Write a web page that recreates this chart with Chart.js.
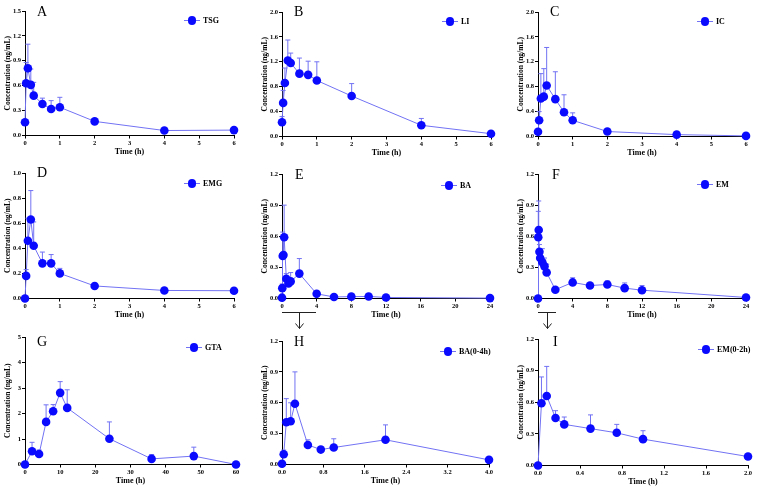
<!DOCTYPE html>
<html>
<head>
<meta charset="utf-8">
<script src="https://cdn.jsdelivr.net/npm/chart.js@4.4.0/dist/chart.umd.min.js"></script>
<style>
    html, body { margin: 0; padding: 0; background: #fff; }
    #page { position: relative; width: 762px; height: 487px; overflow: hidden; }
    .panel { position: absolute; }
    .letter { position: absolute; font-family: "Liberation Serif", "Times New Roman", serif; font-size: 14px; line-height: 14px; color: #000; }
    .legend { position: absolute; height: 9px; font-family: "Liberation Serif", "Times New Roman", serif; font-weight: bold; font-size: 8px; line-height: 9px; color: #000; white-space: nowrap; }
    .legend .ln { position: absolute; left: 0; top: 4px; width: 16px; height: 1px; }
    .legend .dot { position: absolute; left: 3.7px; top: 0.2px; width: 8.6px; height: 8.6px; border-radius: 50%; }
    .legend .tx { position: absolute; left: 19px; top: 0; }
    #arrows { position: absolute; left: 0; top: 0; }
</style>
</head>
<body>
<div id="page">
    <svg id="arrows" width="762" height="487"></svg>
</div>
<script>
// sampling times (h)
const time6h = [0, 0.033, 0.083, 0.167, 0.25, 0.5, 0.75, 1, 2, 4, 6];
const time24h = [0, 0.033, 0.083, 0.167, 0.25, 0.5, 0.75, 1, 2, 4, 6, 8, 10, 12, 24];
const time4h = [0, 0.033, 0.083, 0.167, 0.25, 0.5, 0.75, 1, 2, 4];
const time2h = [0, 0.033, 0.083, 0.167, 0.25, 0.5, 0.75, 1, 2];
const time60h = [0, 2, 4, 6, 8, 10, 12, 24, 36, 48, 60];

// mean concentrations (ng/mL) and SD (upper error bar)
const tsgMean = [0.16, 0.63, 0.81, 0.61, 0.48, 0.38, 0.32, 0.34, 0.17, 0.06, 0.065];
const tsgSd   = [0, 0.25, 0.29, 0.19, 0.16, 0.07, 0.10, 0.12, 0, 0, 0];

const liMean = [0.23, 0.54, 0.86, 1.22, 1.18, 1.01, 0.99, 0.90, 0.65, 0.18, 0.045];
const liSd   = [0.09, 0.20, 0.24, 0.33, 0.16, 0.25, 0.22, 0.30, 0.20, 0.11, 0];

const icMean = [0.075, 0.26, 0.61, 0.64, 0.82, 0.60, 0.39, 0.26, 0.08, 0.03, 0.01];
const icSd   = [0, 0.14, 0.40, 0.45, 0.61, 0.44, 0.28, 0.12, 0, 0, 0];

const emgMean = [0, 0.18, 0.46, 0.63, 0.42, 0.28, 0.28, 0.20, 0.10, 0.064, 0.062];
const emgSd   = [0, 0.05, 0.18, 0.23, 0.19, 0.09, 0.07, 0.04, 0, 0, 0];

const baMean = [0.008, 0.10, 0.41, 0.42, 0.59, 0.19, 0.145, 0.165, 0.24, 0.045, 0.015, 0.018, 0.02, 0.01, 0.004];
const baSd   = [0, 0.04, 0.23, 0.18, 0.31, 0.05, 0.03, 0.085, 0.145, 0, 0, 0, 0, 0, 0];

const emMean = [0, 0.59, 0.66, 0.45, 0.39, 0.35, 0.31, 0.25, 0.085, 0.155, 0.125, 0.135, 0.10, 0.08, 0.01];
const emSd   = [0, 0.25, 0.28, 0.07, 0.07, 0.13, 0.08, 0.08, 0, 0.045, 0.015, 0.035, 0.05, 0.045, 0];

const gtaMean = [0, 0.52, 0.41, 1.67, 2.09, 2.81, 2.22, 1.01, 0.22, 0.33, 0];
const gtaSd   = [0, 0.35, 0.16, 0.67, 0.26, 0.44, 0.71, 0.66, 0.17, 0.35, 0];

const DOT = '#0a0aff';
const LINE = '#7272f4';
const SERIF = '"Liberation Serif", "Times New Roman", serif';

// panel list: data + axis ranges, then layout (chart area box, legend, letter)
const panels = [
    { letter: 'A', name: 'TSG', t: time6h, mean: tsgMean, sd: tsgSd, xMax: 6, xStep: 1, xDec: 0, yMax: 1.5, yStep: 0.3, yDec: 1,
      area: [25, 11, 234, 135], legend: [184, 16], pos: [37, 4.5] },
    { letter: 'B', name: 'LI', t: time6h, mean: liMean, sd: liSd, xMax: 6, xStep: 1, xDec: 0, yMax: 2.0, yStep: 0.4, yDec: 1,
      area: [282, 12, 491, 136], legend: [442, 17], pos: [294, 4.5] },
    { letter: 'C', name: 'IC', t: time6h, mean: icMean, sd: icSd, xMax: 6, xStep: 1, xDec: 0, yMax: 2.0, yStep: 0.4, yDec: 1,
      area: [538, 12, 746, 136], legend: [697, 17], pos: [550, 4.5] },
    { letter: 'D', name: 'EMG', t: time6h, mean: emgMean, sd: emgSd, xMax: 6, xStep: 1, xDec: 0, yMax: 1.0, yStep: 0.2, yDec: 1,
      area: [25, 173, 234, 298], legend: [184, 179], pos: [37, 165.5] },
    { letter: 'E', name: 'BA', t: time24h, mean: baMean, sd: baSd, xMax: 24, xStep: 4, xDec: 0, yMax: 1.2, yStep: 0.3, yDec: 1,
      area: [282, 174, 490, 298], legend: [441, 181], pos: [295, 167.5] },
    { letter: 'F', name: 'EM', t: time24h, mean: emMean, sd: emSd, xMax: 24, xStep: 4, xDec: 0, yMax: 1.2, yStep: 0.3, yDec: 1,
      area: [538, 174, 746, 298], legend: [697, 180], pos: [552, 167.5] },
    { letter: 'G', name: 'GTA', t: time60h, mean: gtaMean, sd: gtaSd, xMax: 60, xStep: 10, xDec: 0, yMax: 5, yStep: 1, yDec: 0,
      area: [25, 337, 236, 464], legend: [186, 343], pos: [37, 334.5] },
    { letter: 'H', name: 'BA(0-4h)', t: time4h, mean: baMean.slice(0, 10), sd: baSd.slice(0, 10), xMax: 4.0, xStep: 0.8, xDec: 1, yMax: 1.2, yStep: 0.3, yDec: 1,
      area: [282, 341, 489, 464], legend: [440, 347], pos: [294, 334.5] },
    { letter: 'I', name: 'EM(0-2h)', t: time2h, mean: emMean.slice(0, 9), sd: emSd.slice(0, 9), xMax: 2.0, xStep: 0.4, xDec: 1, yMax: 1.2, yStep: 0.3, yDec: 1,
      area: [538, 339, 748, 465], legend: [698, 345], pos: [553, 334.5] }
];

// upward error bars, drawn under the markers
const errorBars = {
    id: 'errorBars',
    beforeDatasetsDraw(chart) {
        const ctx = chart.ctx;
        const xs = chart.scales.x, ys = chart.scales.y;
        chart.data.datasets.forEach(ds => {
            ctx.save();
            ctx.strokeStyle = LINE;
            ctx.lineWidth = 1;
            ds.data.forEach((pt, i) => {
                const e = ds.sd[i];
                if (!e) return;
                const x = xs.getPixelForValue(pt.x);
                const y0 = ys.getPixelForValue(pt.y);
                const y1 = ys.getPixelForValue(pt.y + e);
                ctx.beginPath();
                ctx.moveTo(x, y0);
                ctx.lineTo(x, y1);
                ctx.moveTo(x - 2.5, y1);
                ctx.lineTo(x + 2.5, y1);
                ctx.stroke();
            });
            ctx.restore();
        });
    }
};

const page = document.getElementById('page');

function makePanel(p) {
    const [L, T, R, B] = p.area;
    const wrap = document.createElement('div');
    wrap.className = 'panel';
    wrap.style.left = (L - 25) + 'px';
    wrap.style.top = (T - 8) + 'px';
    wrap.style.width = (R - L + 35) + 'px';
    wrap.style.height = (B - T + 29) + 'px';
    const cv = document.createElement('canvas');
    wrap.appendChild(cv);
    page.appendChild(wrap);

    const tickFont = { family: SERIF, size: 6.5, weight: 'bold' };

    new Chart(cv, {
        type: 'line',
        data: {
            datasets: [{
                label: p.name,
                data: p.t.map((x, i) => ({ x: x, y: p.mean[i] })),
                sd: p.sd,
                borderColor: LINE,
                borderWidth: 1,
                pointRadius: 4.3,
                pointBackgroundColor: DOT,
                pointBorderColor: DOT,
                pointBorderWidth: 0,
                tension: 0,
                clip: false
            }]
        },
        options: {
            responsive: true,
            maintainAspectRatio: false,
            animation: false,
            events: [],
            layout: { padding: { left: 0, top: 8, right: 10, bottom: 0 } },
            plugins: { legend: { display: false }, tooltip: { enabled: false } },
            scales: {
                x: {
                    type: 'linear', min: 0, max: p.xMax,
                    ticks: { stepSize: p.xStep, autoSkip: false, maxRotation: 0, padding: 1, color: '#000', font: tickFont,
                             callback: v => v.toFixed(p.xDec) },
                    grid: { drawOnChartArea: false, tickLength: 3, color: '#000' },
                    border: { color: '#000', width: 1 },
                    title: { display: true, text: 'Time (h)', color: '#000', padding: 0,
                             font: { family: SERIF, size: 8, weight: 'bold', lineHeight: 1 } },
                    afterFit: s => { s.height = 20.5; }
                },
                y: {
                    type: 'linear', min: 0, max: p.yMax,
                    ticks: { stepSize: p.yStep, autoSkip: false, padding: 1, color: '#000', font: tickFont,
                             callback: v => v.toFixed(p.yDec) },
                    grid: { drawOnChartArea: false, tickLength: 3, color: '#000' },
                    border: { color: '#000', width: 1 },
                    title: { display: true, text: 'Concentration (ng/mL)', color: '#000', padding: { top: 4, bottom: 0 },
                             font: { family: SERIF, size: 7.5, weight: 'bold', lineHeight: 1 } },
                    afterFit: s => { s.width = 25; }
                }
            }
        },
        plugins: [errorBars]
    });

    const lt = document.createElement('div');
    lt.className = 'letter';
    lt.style.left = p.pos[0] + 'px';
    lt.style.top = p.pos[1] + 'px';
    lt.textContent = p.letter;
    page.appendChild(lt);

    const lg = document.createElement('div');
    lg.className = 'legend';
    lg.style.left = p.legend[0] + 'px';
    lg.style.top = p.legend[1] + 'px';
    lg.innerHTML = '<span class="ln" style="background:' + LINE + '"></span>' +
                   '<span class="dot" style="background:' + DOT + '"></span>' +
                   '<span class="tx">' + p.name + '</span>';
    page.appendChild(lg);
}

panels.forEach(makePanel);

// brackets below E and F pointing to the zoomed panels H and I
const svg = document.getElementById('arrows');
function bracket(x0, x1, xm) {
    svg.innerHTML +=
        '<path d="M' + x0 + ' 312.5 H' + x1 + ' M' + xm + ' 312.5 V328.5 M' + (xm - 4) + ' 323.5 L' + xm + ' 328.5 L' + (xm + 4) + ' 323.5" ' +
        'stroke="#222" stroke-width="1" fill="none"/>';
}
bracket(282, 316, 299.5);
bracket(538, 556, 547.5);
</script>
</body>
</html>
